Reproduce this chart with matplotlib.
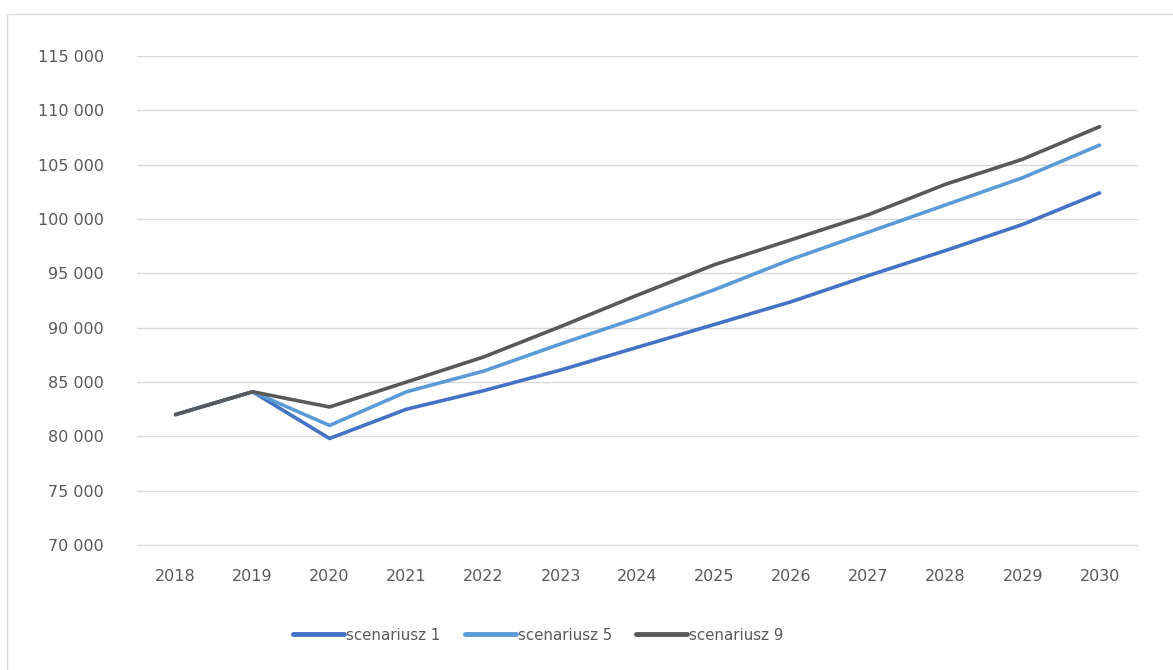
import matplotlib
matplotlib.use('Agg')

import matplotlib.pyplot as plt
from matplotlib.patches import Rectangle
from matplotlib.ticker import FuncFormatter

# ---- dane ----
years = ['2018', '2019', '2020', '2021', '2022', '2023', '2024',
         '2025', '2026', '2027', '2028', '2029', '2030']

scen_1 = [82000, 84100, 79800, 82500, 84200, 86100, 88200,
          90300, 92400, 94800, 97100, 99500, 102400]
scen_5 = [82000, 84100, 81000, 84100, 86000, 88500, 90900,
          93500, 96300, 98800, 101300, 103800, 106800]
scen_9 = [82000, 84100, 82700, 85000, 87300, 90100, 93000,
          95800, 98100, 100400, 103200, 105500, 108500]

labels = ['scenariusz 1', 'scenariusz 5', 'scenariusz 9']
colors = ['#4472C4', '#5B9BD5', '#595959']

# ---- rysunek ----
fig = plt.figure(figsize=(11.73, 6.70), dpi=100)
ax = fig.add_axes([0.1168, 0.1866, 0.8535, 0.7298])

x = range(len(years))
for vals, lab, col in zip([scen_1, scen_5, scen_9], labels, colors):
    ax.plot(x, vals, color=col, linewidth=2.6, label=lab, solid_capstyle='round')

ax.set_xlim(-0.5, len(years) - 0.5)
ax.set_ylim(70000, 115000)
ax.set_yticks(range(70000, 115001, 5000))
ax.set_xticks(list(x))
ax.set_xticklabels(years)
ax.yaxis.set_major_formatter(FuncFormatter(lambda v, p: f'{int(v):,}'.replace(',', ' ')))

ax.grid(axis='y', color='#D9D9D9', linewidth=1)
ax.set_axisbelow(True)
for s in ['top', 'right', 'left']:
    ax.spines[s].set_visible(False)
ax.spines['bottom'].set_color('#D9D9D9')
ax.tick_params(length=0, labelsize=11.5, colors='#595959')
ax.tick_params(axis='x', pad=17)
ax.tick_params(axis='y', pad=24)

leg = fig.legend(loc='center', bbox_to_anchor=(0.459, 0.052), ncol=3, frameon=False,
                 handlelength=3.4, handletextpad=0.15, columnspacing=1.6,
                 fontsize=10.8, labelcolor='#595959')
for h in leg.get_lines():
    h.set_linewidth(3.5)

# ramka obszaru wykresu
fig.patches.append(Rectangle((7 / 1173, -0.01), 1.02, 1 - 14 / 670 + 0.01,
                             transform=fig.transFigure, fill=False,
                             edgecolor='#D9D9D9', linewidth=1))

fig.savefig('out.png', dpi=100)
